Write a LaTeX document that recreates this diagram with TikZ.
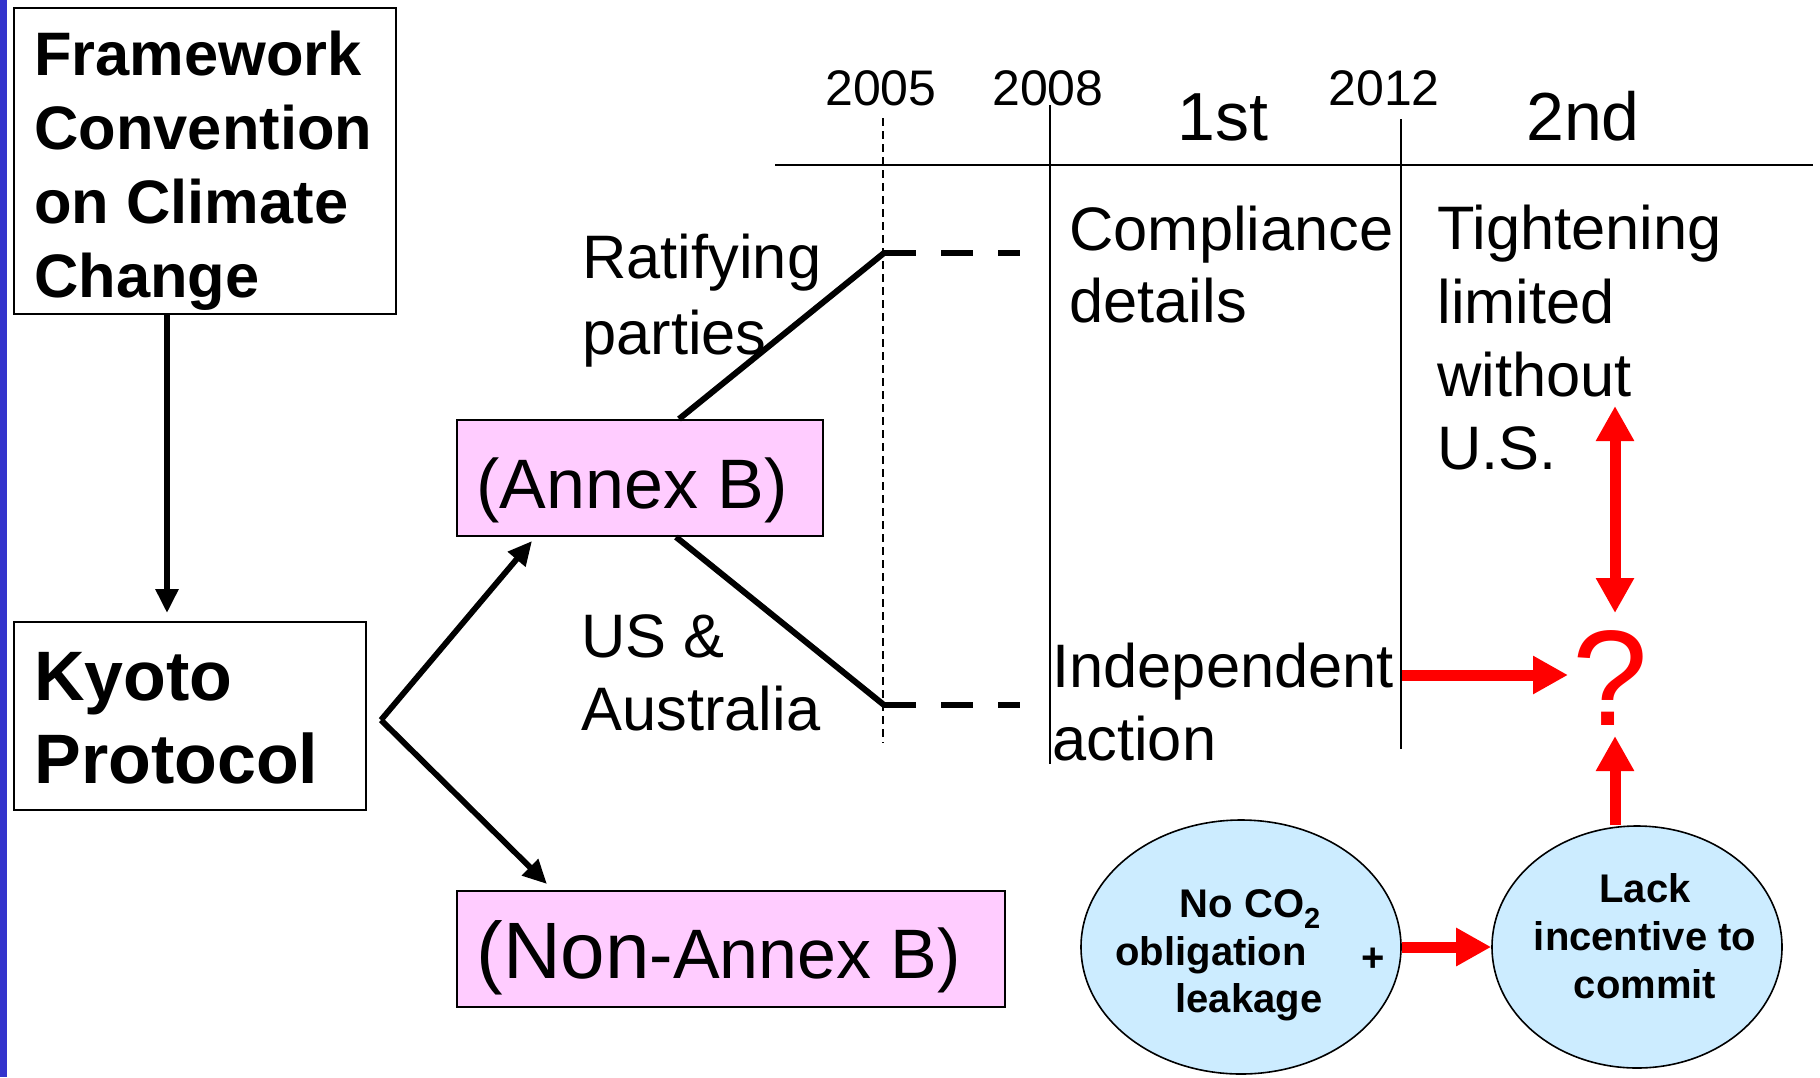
\documentclass[tikz,border=0pt]{standalone}
\usepackage{fontspec}
\setmainfont{Liberation Sans}
\usetikzlibrary{arrows.meta,calc,shapes.geometric}
\definecolor{barblue}{RGB}{51,51,204}
\definecolor{pinkfill}{RGB}{255,204,255}
\definecolor{bubblefill}{RGB}{204,236,255}
\definecolor{redarr}{RGB}{255,0,0}
\begin{document}
\begin{tikzpicture}[x=0.5pt,y=-0.5pt,
  box/.style={draw=black,line width=1pt,inner sep=0pt,rectangle},
  pinkbox/.style={box,fill=pinkfill},
  bubble/.style={ellipse,draw=black,line width=0.8pt,fill=bubblefill,inner sep=0pt},
  lbl/.style={inner sep=0pt,anchor=base west},
  clbl/.style={inner sep=0pt,anchor=base},
  fwfont/.style={font=\fontsize{30.7}{36}\selectfont\bfseries},
  kyfont/.style={font=\fontsize{35}{42}\selectfont\bfseries},
  bodyfont/.style={font=\fontsize{30.7}{36}\selectfont},
  yearfont/.style={font=\fontsize{25}{30}\selectfont},
  periodfont/.style={font=\fontsize{34}{40}\selectfont},
  annexfont/.style={font=\fontsize{35}{42}\selectfont},
  bubblefont/.style={font=\fontsize{20}{24}\selectfont\bfseries},
  blackarrow/.style={line width=2.9pt,-{Triangle[length=12pt,width=11pt]}},
  thickline/.style={line width=3pt},
  thickdash/.style={line width=3pt,dash pattern=on 16pt off 12.5pt},
  thinline/.style={line width=0.9pt},
  yeardash/.style={line width=0.7pt,dash pattern=on 4pt off 2.5pt},
  redarrow/.style={draw=redarr,line width=5.5pt,-{Triangle[length=17.5pt,width=18pt]}},
  redboth/.style={draw=redarr,line width=5.5pt,{Triangle[length=17.5pt,width=18pt]}-{Triangle[length=17.5pt,width=18pt]}}
]
\useasboundingbox (0,0) rectangle (1820,1077);
\fill[barblue] (0,0) rectangle (7,1077);

% boxes
\node[box,minimum width=191pt,minimum height=153pt] (fccc) at (205,161) {};
\node[box,minimum width=176pt,minimum height=94pt] (kyoto) at (190,716) {};
\node[pinkbox,minimum width=183pt,minimum height=58pt] (annex) at (640,478) {};
\node[pinkbox,minimum width=274pt,minimum height=58pt] (nonannex) at (731,949) {};

% box texts
\node[lbl,fwfont] (fw1) at (34,75) {Framework};
\node[lbl,fwfont] (fw2) at (34,149) {Convention};
\node[lbl,fwfont] (fw3) at (34,223) {on Climate};
\node[lbl,fwfont] (fw4) at (34,297) {Change};
\node[lbl,kyfont] (ky1) at (34,700) {Kyoto};
\node[lbl,kyfont] (ky2) at (34,783) {Protocol};
\node[lbl,annexfont] (anx) at (476,508) {(Annex B)};
\node[lbl] (nanx) at (476,978) {\fontsize{40}{46}\selectfont(Non\fontsize{35}{42}\selectfont-Annex B)};

% framework -> kyoto
\coordinate (fx) at (167,0);
\draw[blackarrow] (fx |- fccc.south) -- (167,613);

% branch
\coordinate (br) at (381,720);
\coordinate (toannex) at (532,541);
\coordinate (tononannex) at (547,884);
\draw[blackarrow] (br) -- (toannex);
\draw[blackarrow] (br) -- (tononannex);

% timeline
\coordinate (tlL) at (775,165);
\coordinate (tlR) at (1813,165);
\draw[line width=1pt] (tlL) -- (tlR);
\coordinate (y05t) at (883,118);
\coordinate (y05b) at (883,743);
\draw[yeardash] (y05t) -- (y05b);
\coordinate (y08t) at (1050,105);
\coordinate (y08b) at (1050,764);
\draw[thinline] (y08t) -- (y08b);
\coordinate (y12t) at (1401,119);
\coordinate (y12b) at (1401,749);
\draw[thinline] (y12t) -- (y12b);

\node[clbl,yearfont] (yr05) at (881,105) {2005};
\node[clbl,yearfont] (yr08) at (1048,105) {2008};
\node[clbl,yearfont] (yr12) at (1384,105) {2012};
\node[clbl,periodfont] (p1) at (1223,140) {1st};
\node[clbl,periodfont] (p2) at (1583,140) {2nd};

% annex branches
\coordinate (j05u) at (884,253);
\coordinate (d05u) at (1020,253);
\coordinate (j05l) at (884,705);
\coordinate (d05l) at (1020,705);
\draw[thickline] ([xshift=19.5pt]annex.north) -- (j05u);
\draw[thickline] ([xshift=18pt]annex.south) -- (j05l);
\draw[thickdash] (j05u) -- (d05u);
\draw[thickdash] (j05l) -- (d05l);

% labels
\node[lbl,bodyfont] (rat1) at (582,278) {Ratifying};
\node[lbl,bodyfont] (rat2) at (582,354) {parties};
\node[lbl,bodyfont] (us1) at (581,657) {US \&};
\node[lbl,bodyfont] (us2) at (581,730) {Australia};
\node[lbl,bodyfont] (cd1) at (1069,250) {Compliance};
\node[lbl,bodyfont] (cd2) at (1069,322) {details};
\node[lbl,bodyfont] (tl1) at (1437,249) {Tightening};
\node[lbl,bodyfont] (tl2) at (1437,323) {limited};
\node[lbl,bodyfont] (tl3) at (1437,396) {without};
\node[lbl,bodyfont] (tl4) at (1437,469) {U.S.};
\node[lbl,bodyfont] (ia1) at (1052,687) {Independent};
\node[lbl,bodyfont] (ia2) at (1052,760) {action};

% question mark
\node[clbl,font=\fontsize{68}{70}\selectfont,text=redarr] (q) at (1610,725) {?};
\coordinate (qx) at (1615,0);

% bubbles
\node[bubble,minimum width=160pt,minimum height=127pt] (lel) at (1241,947) {};
\node[bubble,minimum width=145pt,minimum height=121pt] (rel) at (1637,947) {};
\node[clbl,bubblefont] (b1) at (1250,917) {No CO\raisebox{-5.5pt}{\fontsize{14.5}{15}\selectfont 2}};
\node[clbl,bubblefont] (b2) at (1211,965) {obligation};
\node[clbl,bubblefont] (b3) at (1249,1012) {leakage};
\node[clbl,bubblefont] (plus) at (1373,971) {+};
\node[clbl,bubblefont] (r1) at (1645,902) {Lack};
\node[clbl,bubblefont] (r2) at (1645,950) {incentive to};
\node[clbl,bubblefont] (r3) at (1645,998) {commit};

% red arrows
\coordinate (ra0) at (1402,675);
\coordinate (ra1) at (1568,675);
\draw[redarrow] (ra0) -- (ra1);
\coordinate (vt) at (1615,406);
\coordinate (vb) at (1615,613);
\draw[redboth] (vt) -- (vb);
\coordinate (uptip) at (1615,736);
\draw[redarrow] (rel.north -| qx) -- (uptip);
\draw[redarrow] (lel.east) -- (rel.west);
\end{tikzpicture}
\end{document}
